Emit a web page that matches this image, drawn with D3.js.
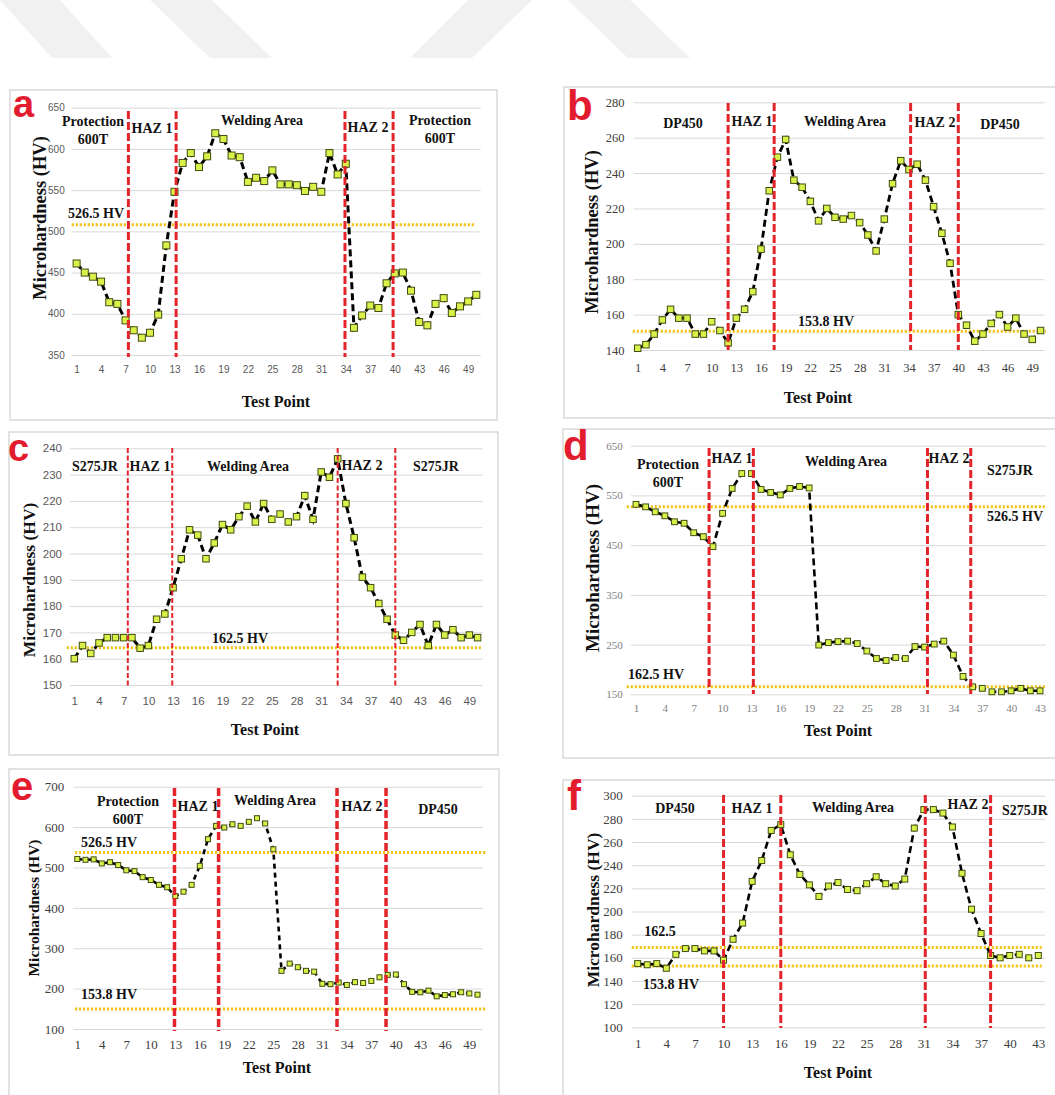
<!DOCTYPE html>
<html><head><meta charset="utf-8">
<script src="https://cdn.jsdelivr.net/npm/d3@7"></script>
<style>body{margin:0;background:#fff}svg{display:block}</style>
</head><body>
<svg id="chart" width="1055" height="1095"></svg>
<script>
// ---------- DATA ----------
const valuesA = [461,450,445,439,414,412,392,380,371,377,399,483,548,583,595,578,591,619,612,592,
                 590,560,565,561,574,557,557,556,549,554,548,595,569,582,383,398,410,407,437,449,
                 450,428,390,386,412,419,401,409,415,423];
const valuesB = [141,143,149,157,163,158,158,149,149,156,151,144,158,163,173,197,230,249,259,236,
                 232,224,213,220,215,214,216,212,205,196,214,234,247,242,245,236,221,206,189,160,
                 154,145,149,155,160,153,158,149,146,151];
const valuesC = [160,165,162,166,168,168,168,168,164,165,175,177,187,198,209,207,198,204,211,209,
                 214,218,212,219,213,215,212,214,222,213,231,229,236,219,206,191,187,181,175,169,
                 167,170,173,165,173,169,171,168,169,168];
const valuesD = [532,527,517,509,497,494,475,467,447,514,564,594,594,562,556,551,564,568,565,249,
                 254,256,257,252,237,222,218,224,222,246,245,251,257,229,186,165,162,155,155,157,
                 162,157,157];
const valuesE = [521,519,520,510,513,506,493,491,476,469,457,451,429,440,457,504,570,603,599,607,
                 603,613,622,609,545,244,262,253,244,242,212,211,215,209,216,214,219,228,234,235,
                 211,192,191,195,181,184,186,191,188,185];
const valuesF = [155,154,155,151,163,168,168,166,166,158,176,190,226,244,270,275,249,232,223,213,
                 222,225,219,218,224,230,224,222,228,272,288,288,285,273,233,202,181,162,160,162,
                 163,160,162];

const xTicks50 = [1,4,7,10,13,16,19,22,25,28,31,34,37,40,43,46,49];
const xTicks43 = [1,4,7,10,13,16,19,22,25,28,31,34,37,40,43];
const yTicksA = [350,400,450,500,550,600,650];
const yTicksB = [140,160,180,200,220,240,260,280];
const yTicksC = [150,160,170,180,190,200,210,220,230,240];
const yTicksD = [150,250,350,450,550,650];
const yTicksE = [100,200,300,400,500,600,700];
const yTicksF = [100,120,140,160,180,200,220,240,260,280,300];

// zone boundaries (test-point position of the red dashed lines)
const boundsA = [7.35,13.2,33.9,39.8];
const boundsB = [12.0,17.6,34.2,40.0];
const boundsC = [7.5,12.9,33.0,40.0];
const boundsD = [8.6,13.2,31.3,35.8];
const boundsE = [12.9,18.3,32.8,38.8];
const boundsF = [10.0,16.0,31.15,38.0];

// reference hardness lines (drawn position) and their labels
const refA = [508];        const refLabelsA = ["526.5 HV"];
const refB = [150.6];      const refLabelsB = ["153.8 HV"];
const refC = [164.2];      const refLabelsC = ["162.5 HV"];
const refD = [527, 165.4]; const refLabelsD = ["526.5 HV","162.5 HV"];
const refE = [537, 149.5]; const refLabelsE = ["526.5 HV","153.8 HV"];
const refF = [169, 153];   const refLabelsF = ["162.5","153.8 HV"];

const zonesA = [["Protection","600T"],["HAZ 1"],["Welding Area"],["HAZ 2"],["Protection","600T"]];
const zonesB = [["DP450"],["HAZ 1"],["Welding Area"],["HAZ 2"],["DP450"]];
const zonesC = [["S275JR"],["HAZ 1"],["Welding Area"],["HAZ 2"],["S275JR"]];
const zonesD = [["Protection","600T"],["HAZ 1"],["Welding Area"],["HAZ 2"],["S275JR"]];
const zonesE = [["Protection","600T"],["HAZ 1"],["Welding Area"],["HAZ 2"],["DP450"]];
const zonesF = [["DP450"],["HAZ 1"],["Welding Area"],["HAZ 2"],["S275JR"]];

const yTitle = "Microhardness (HV)";
const xTitle = "Test Point";

// ---------- LAYOUT ----------
const SERIF = "'Liberation Serif','Times New Roman',serif";
const SANS = "'Liberation Sans',Arial,sans-serif";
const panels = [
 {letter:"a", values:valuesA, xTicks:xTicks50, yTicks:yTicksA, bounds:boundsA, ref:refA, refLabels:refLabelsA, zones:zonesA,
  box:[10,90,497,420], x1:76.6, xn:476.3, yDom:[350,650], yB:355, yT:107.7, gx:[71.7,480.7],
  tickFont:SANS, tickSize:10, tickColor:"#595959", yPad:7, xPad:11,
  redW:3, redDash:"8,3", redY:[111,357], lineW:3, lineDash:"7,4", mk:7,
  refX:[71.7,475], refPos:[[96,218]], refSize:14,
  zonePos:[[93,126],[152,133],[262,125],[368,132],[440,125]], zoneSize:14,
  yTitlePos:[40,218], yTitleSize:18.5, xTitlePos:[276,407], xTitleSize:16, letterPos:[13,117], letterSize:38},
 {letter:"b", values:valuesB, xTicks:xTicks50, yTicks:yTicksB, bounds:boundsB, ref:refB, refLabels:refLabelsB, zones:zonesB,
  box:[564,87,1060,418], x1:637.7, xn:1040.5, yDom:[140,280], yB:350, yT:102.3, gx:[633.6,1044.6],
  tickFont:SERIF, tickSize:12.5, tickColor:"#404040", yPad:9, xPad:13,
  redW:3, redDash:"8,3", redY:[103,350], lineW:2.8, lineDash:"7,4", mk:6.5,
  refX:[632.7,1046], refPos:[[826,326]], refSize:14,
  zonePos:[[683,128],[752,126],[845,126],[935,127],[1000,129]], zoneSize:14,
  yTitlePos:[592,232], yTitleSize:18.5, xTitlePos:[818,403], xTitleSize:16, letterPos:[567,120], letterSize:42},
 {letter:"c", values:valuesC, xTicks:xTicks50, yTicks:yTicksC, bounds:boundsC, ref:refC, refLabels:refLabelsC, zones:zonesC,
  box:[9,432,498,755], x1:74.3, xn:477.6, yDom:[150,240], yB:685, yT:448.3, gx:[70,482.7],
  tickFont:SANS, tickSize:11.5, tickColor:"#595959", yPad:8, xPad:12,
  redW:2, redDash:"5,2.5", redY:[448,687], lineW:3, lineDash:"7,4", mk:6.5,
  refX:[66.7,482.7], refPos:[[240,643]], refSize:14,
  zonePos:[[95,471],[150,471],[248,471],[362,470],[436,471]], zoneSize:14,
  yTitlePos:[29,580], yTitleSize:17.5, xTitlePos:[265,735], xTitleSize:16, letterPos:[8,461], letterSize:38},
 {letter:"d", values:valuesD, xTicks:xTicks43, yTicks:yTicksD, bounds:boundsD, ref:refD, refLabels:refLabelsD, zones:zonesD,
  box:[563,429,1060,758], x1:636, xn:1040, yDom:[150,650], yB:694.3, yT:445.7, gx:[630.7,1046],
  tickFont:SERIF, tickSize:11, tickColor:"#7f7f7f", yPad:8, xPad:10,
  redW:3, redDash:"8,3", redY:[448,694], lineW:2.6, lineDash:"7,4", mk:5.8,
  refX:[626.7,1046], refPos:[[1015,521],[656,679]], refSize:14,
  zonePos:[[668,469],[732,463],[846,466],[949,463],[1010,475]], zoneSize:14,
  yTitlePos:[592,568], yTitleSize:19, xTitlePos:[838,736], xTitleSize:16, letterPos:[563,460], letterSize:42},
 {letter:"e", values:valuesE, xTicks:xTicks50, yTicks:yTicksE, bounds:boundsE, ref:refE, refLabels:refLabelsE, zones:zonesE,
  box:[9,769,499,1100], x1:77.3, xn:477.5, yDom:[100,700], yB:1029, yT:786.7, gx:[73.3,482.7],
  tickFont:SERIF, tickSize:13, tickColor:"#404040", yPad:9, xPad:11,
  redW:3.5, redDash:"8,3", redY:[788,1031], lineW:2.6, lineDash:"5,4", mk:5,
  refX:[75,486.7], refPos:[[109,847],[109,999]], refSize:14,
  zonePos:[[128,806],[198,811],[275,805],[362,811],[438,814]], zoneSize:14,
  yTitlePos:[33,908], yTitleSize:15.5, xTitlePos:[277,1073], xTitleSize:16, letterPos:[11,800], letterSize:40},
 {letter:"f", values:valuesF, xTicks:xTicks43, yTicks:yTicksF, bounds:boundsF, ref:refF, refLabels:refLabelsF, zones:zonesF,
  box:[563,780,1060,1100], x1:637.7, xn:1038.3, yDom:[100,300], yB:1027.3, yT:795.7, gx:[631.7,1045],
  tickFont:SERIF, tickSize:13, tickColor:"#404040", yPad:9, xPad:11,
  redW:3, redDash:"8,3", redY:[795,1028], lineW:2.6, lineDash:"7,4", mk:6,
  refX:[631.7,1041.7], refPos:[[660,936],[671,989]], refSize:14,
  zonePos:[[675,813],[752,813],[853,812],[968,809],[1025,815]], zoneSize:14,
  yTitlePos:[593,910], yTitleSize:17.5, xTitlePos:[838,1078], xTitleSize:16, letterPos:[567,810], letterSize:42}
];

const svg = d3.select("#chart");

// faint watermark shapes at the top
const watermark = [
  [[0,0],[60,0],[112,58],[52,58]],
  [[150,0],[212,0],[272,58],[210,58]],
  [[468,0],[532,0],[472,58],[410,58]],
  [[568,0],[630,0],[690,58],[628,58]]
];
svg.selectAll("polygon.wm").data(watermark).join("polygon").attr("class","wm")
  .attr("points", d => d.map(p => p.join(",")).join(" ")).attr("fill","#f1f1f1");

function drawPanel(p){
  const g = svg.append("g");
  g.append("rect").attr("x",p.box[0]).attr("y",p.box[1])
    .attr("width",p.box[2]-p.box[0]).attr("height",p.box[3]-p.box[1])
    .attr("fill","#fff").attr("stroke","#d9d9d9").attr("stroke-width",1.5);
  const n = p.values.length;
  const cats = d3.range(1, n+1);
  const x = d3.scaleLinear().domain([1,n]).range([p.x1,p.xn]);
  const y = d3.scaleLinear().domain(p.yDom).range([p.yB,p.yT]);

  const ya = g.append("g").attr("transform",`translate(${p.gx[0]},0)`)
    .call(d3.axisLeft(y).tickValues(p.yTicks).tickSize(-(p.gx[1]-p.gx[0])).tickPadding(p.yPad).tickFormat(d3.format("d")));
  ya.select(".domain").remove();
  ya.selectAll("line").attr("stroke","#d9d9d9").attr("stroke-width",1);
  ya.selectAll("text").attr("font-family",p.tickFont).attr("font-size",p.tickSize).attr("fill",p.tickColor);

  const xa = g.append("g").attr("transform",`translate(0,${p.yB})`)
    .call(d3.axisBottom(x).tickValues(p.xTicks).tickSize(0).tickPadding(p.xPad).tickFormat(d3.format("d")));
  xa.select(".domain").remove();
  xa.selectAll("text").attr("font-family",p.tickFont).attr("font-size",p.tickSize).attr("fill",p.tickColor);

  // reference dotted lines
  g.selectAll("line.ref").data(p.ref).join("line").attr("class","ref")
    .attr("x1",p.refX[0]).attr("x2",p.refX[1]).attr("y1",d=>y(d)).attr("y2",d=>y(d))
    .attr("stroke","#f2c318").attr("stroke-width",3).attr("stroke-dasharray","2.2,1.8");

  // data line
  const line = d3.line().x((d,i)=>x(cats[i])).y(d=>y(d));
  g.append("path").datum(p.values).attr("d",line).attr("fill","none")
    .attr("stroke","#000").attr("stroke-width",p.lineW).attr("stroke-dasharray",p.lineDash);

  // markers
  g.selectAll("rect.mk").data(p.values).join("rect").attr("class","mk")
    .attr("x",(d,i)=>x(cats[i])-p.mk/2).attr("y",d=>y(d)-p.mk/2)
    .attr("width",p.mk).attr("height",p.mk)
    .attr("fill","#dcf04a").attr("stroke","#3f4d10").attr("stroke-width",1);

  // red dashed zone boundaries
  g.selectAll("line.bd").data(p.bounds).join("line").attr("class","bd")
    .attr("x1",d=>x(d)).attr("x2",d=>x(d)).attr("y1",p.redY[0]).attr("y2",p.redY[1])
    .attr("stroke","#e3242b").attr("stroke-width",p.redW).attr("stroke-dasharray",p.redDash);

  // zone labels
  p.zones.forEach((lines,i)=>{
    const t = g.append("text").attr("x",p.zonePos[i][0]).attr("y",p.zonePos[i][1])
      .attr("text-anchor","middle").attr("font-family",SERIF).attr("font-weight","bold")
      .attr("font-size",p.zoneSize).attr("fill","#111");
    lines.forEach((s,j)=>t.append("tspan").attr("x",p.zonePos[i][0]).attr("dy",j?"1.25em":0).text(s));
  });

  // reference labels
  p.refLabels.forEach((s,i)=>{
    g.append("text").attr("x",p.refPos[i][0]).attr("y",p.refPos[i][1]).attr("text-anchor","middle")
      .attr("font-family",SERIF).attr("font-weight","bold").attr("font-size",p.refSize).attr("fill","#111").text(s);
  });

  // axis titles
  g.append("text").attr("transform",`translate(${p.yTitlePos[0]},${p.yTitlePos[1]}) rotate(-90)`)
    .attr("text-anchor","middle").attr("dominant-baseline","central")
    .attr("font-family",SERIF).attr("font-weight","bold").attr("font-size",p.yTitleSize).attr("fill","#111").text(yTitle);
  g.append("text").attr("x",p.xTitlePos[0]).attr("y",p.xTitlePos[1]).attr("text-anchor","middle")
    .attr("font-family",SERIF).attr("font-weight","bold").attr("font-size",p.xTitleSize).attr("fill","#111").text(xTitle);

  // panel letter
  g.append("text").attr("x",p.letterPos[0]).attr("y",p.letterPos[1])
    .attr("font-family",SANS).attr("font-weight","bold").attr("font-size",p.letterSize)
    .attr("fill","#e31b2e").text(p.letter);
}
panels.forEach(drawPanel);
</script>
</body></html>
